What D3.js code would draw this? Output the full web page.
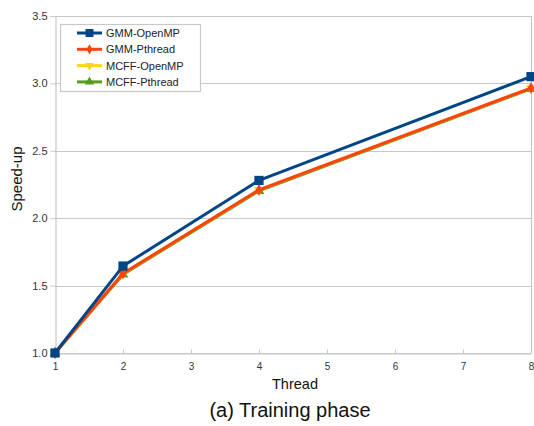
<!DOCTYPE html>
<html>
<head>
<meta charset="utf-8">
<script src="https://cdn.jsdelivr.net/npm/d3@7"></script>
<style>
    body { margin: 0; background: #fff; }
    text { font-family: 'Liberation Sans', Arial, sans-serif; }
</style>
</head>
<body>
<div id="chart"></div>
<script>
const threads = [1, 2, 4, 8];
const gmmOpenMP = [1.0, 1.645, 2.28, 3.05];
const gmmPthread = [1.0, 1.59, 2.21, 2.965];
const mcffOpenMP = [1.0, 1.59, 2.21, 2.965];
const mcffPthread = [1.0, 1.583, 2.203, 2.96];
const xTicks = [1, 2, 3, 4, 5, 6, 7, 8];
const yTicks = [1.0, 1.5, 2.0, 2.5, 3.0, 3.5];

const series = [
    { name: 'GMM-OpenMP', values: gmmOpenMP, color: '#004586', symbol: d3.symbolSquare, size: 85, rot: 0 },
    { name: 'GMM-Pthread', values: gmmPthread, color: '#ff420e', symbol: d3.symbolDiamond, size: 40, rot: 0 },
    { name: 'MCFF-OpenMP', values: mcffOpenMP, color: '#ffd320', symbol: d3.symbolTriangle, size: 45, rot: 180 },
    { name: 'MCFF-Pthread', values: mcffPthread, color: '#579d1c', symbol: d3.symbolTriangle, size: 50, rot: 0 }
];

const width = 534, height = 426;
const margin = { top: 16, right: 2, bottom: 73, left: 55 };

const svg = d3.select('#chart')
    .append('svg')
    .attr('width', width)
    .attr('height', height);

const x = d3.scaleLinear()
    .domain([1, 8])
    .range([margin.left, width - margin.right - 1]);
const y = d3.scaleLinear()
    .domain([1, 3.5])
    .range([height - margin.bottom, margin.top]);

// gridlines
svg.append('g').selectAll('line')
    .data(yTicks)
    .enter()
    .append('line')
        .attr('x1', margin.left)
        .attr('x2', x(8))
        .attr('y1', d => Math.round(y(d)) + 0.5)
        .attr('y2', d => Math.round(y(d)) + 0.5)
        .attr('stroke', '#c8c8c8')
        .attr('stroke-width', 1.2);

// right frame
svg.append('line')
    .attr('x1', x(8) + 0.5).attr('x2', x(8) + 0.5)
    .attr('y1', y(3.5)).attr('y2', y(1))
    .attr('stroke', '#c8c8c8')
    .attr('stroke-width', 1.2);

// y axis
const yAxis = svg.append('g')
    .attr('transform', 'translate(' + (margin.left + 0.5) + ',0)')
    .call(d3.axisLeft(y).tickValues(yTicks).tickFormat(d3.format('.1f')).tickSize(5).tickPadding(3));
yAxis.select('.domain').attr('stroke', '#c8c8c8').attr('stroke-width', 1.2);
yAxis.selectAll('.tick line').attr('stroke', '#c8c8c8');
yAxis.selectAll('.tick text')
    .attr('fill', '#333')
    .style('font-size', '11px')
    .style('font-family', "'Liberation Sans', Arial, sans-serif");

// x axis
const xAxis = svg.append('g')
    .attr('transform', 'translate(0,' + (Math.round(y(1)) + 0.5) + ')')
    .call(d3.axisBottom(x).tickValues(xTicks).tickFormat(d3.format('d')).tickSizeInner(-4).tickSizeOuter(0).tickPadding(9));
xAxis.select('.domain').attr('stroke', '#c8c8c8').attr('stroke-width', 1.2);
xAxis.selectAll('.tick line').attr('stroke', '#c8c8c8');
xAxis.selectAll('.tick text')
    .attr('fill', '#333')
    .style('font-size', '10px')
    .style('font-family', "'Liberation Sans', Arial, sans-serif");

// lines, drawn in reverse so GMM sits on top
const line = d3.line()
    .x((d, i) => x(threads[i]))
    .y(d => y(d));

const groups = svg.append('g').selectAll('.serie')
    .data(series.slice().reverse())
    .enter()
    .append('g')
        .classed('serie', true);

groups.append('path')
    .attr('d', d => line(d.values))
    .attr('fill', 'none')
    .attr('stroke', d => d.color)
    .attr('stroke-width', 3)
    .attr('stroke-linejoin', 'round');

groups.each(function(s) {
    d3.select(this).selectAll('path.mark')
        .data(s.values)
        .enter()
        .append('path')
            .classed('mark', true)
            .attr('d', d3.symbol().type(s.symbol).size(s.size))
            .attr('transform', (d, i) => 'translate(' + x(threads[i]) + ',' + y(d) + ') rotate(' + s.rot + ')')
            .attr('fill', s.color);
});

// legend
const legend = svg.append('g').attr('transform', 'translate(60,24)');
legend.append('rect')
    .attr('x', 0.5).attr('y', 0.5)
    .attr('width', 140).attr('height', 67)
    .attr('fill', '#fff')
    .attr('stroke', '#c8c8c8')
    .attr('stroke-width', 1.2);

const items = legend.selectAll('.item')
    .data(series)
    .enter()
    .append('g')
        .classed('item', true)
        .attr('transform', (d, i) => 'translate(0,' + (9 + i * 16.3) + ')');

items.append('line')
    .attr('x1', 17).attr('x2', 42)
    .attr('stroke', d => d.color)
    .attr('stroke-width', 3);
items.append('path')
    .attr('d', d => d3.symbol().type(d.symbol).size(d.size * 0.75)())
    .attr('transform', d => 'translate(29.5,0) rotate(' + d.rot + ')')
    .attr('fill', d => d.color);
items.append('text')
    .attr('x', 46)
    .attr('y', 4)
    .attr('fill', '#222')
    .style('font-size', '11px')
    .text(d => d.name);

// titles
svg.append('text')
    .attr('transform', 'translate(22,179) rotate(-90)')
    .attr('text-anchor', 'middle')
    .style('font-size', '15px')
    .attr('fill', '#111')
    .text('Speed-up');

svg.append('text')
    .attr('x', 295)
    .attr('y', 389)
    .attr('text-anchor', 'middle')
    .style('font-size', '14.5px')
    .attr('fill', '#111')
    .text('Thread');

svg.append('text')
    .attr('x', 290)
    .attr('y', 417)
    .attr('text-anchor', 'middle')
    .style('font-size', '20px')
    .attr('fill', '#111')
    .text('(a) Training phase');
</script>
</body>
</html>
